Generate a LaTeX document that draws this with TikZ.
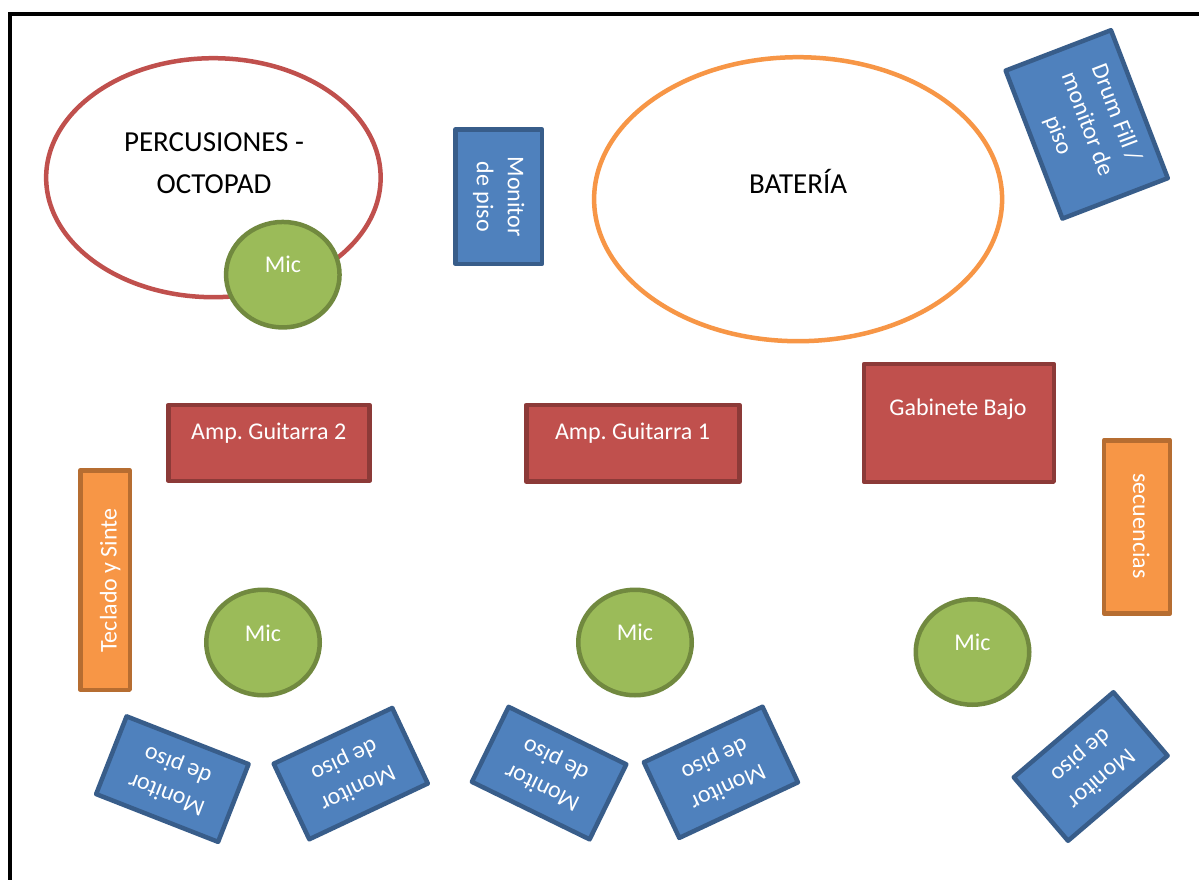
\documentclass[tikz,border=0pt]{standalone}
\usepackage{fontspec}
\setmainfont{Carlito}
\usetikzlibrary{shapes.geometric}
\definecolor{blueF}{HTML}{4F81BD}
\definecolor{blueD}{HTML}{385D8A}
\definecolor{redF}{HTML}{C0504D}
\definecolor{redD}{HTML}{8C3A38}
\definecolor{orF}{HTML}{F79646}
\definecolor{orD}{HTML}{B66D31}
\definecolor{grF}{HTML}{9BBB59}
\definecolor{grD}{HTML}{71893F}
\newcommand\wtxtfont{\fontsize{24}{31}\selectfont}
\newcommand\blktxtfont{\fontsize{29}{41.6}\selectfont}
\frenchspacing
\begin{document}
\begin{tikzpicture}[x=1pt,y=-1pt,
  shp/.style={line width=4.5pt, line join=round, inner sep=0pt, outer sep=0pt},
  ring/.style={shp, ellipse, fill=white},
  mic/.style={shp, ellipse, fill=grF, draw=grD, minimum width=113.5pt, minimum height=105.5pt},
  mon/.style={shp, rectangle, fill=blueF, draw=blueD, text=white, font=\wtxtfont, align=center},
  botmon/.style={mon, minimum width=131pt, minimum height=83.5pt},
  redbox/.style={shp, rectangle, fill=redF, draw=redD},
  orbox/.style={shp, rectangle, fill=orF, draw=orD},
  wt/.style={text=white, font=\wtxtfont, inner sep=0pt},
  bt/.style={text=black, font=\blktxtfont, inner sep=0pt, align=center}]
\useasboundingbox (0,0) rectangle (1199,880);
\fill[white] (0,0) rectangle (1199,880);
% frame
\draw[line width=4.5pt, black] (10,885) -- (10,14) -- (1205,14);

% percusiones
\node[ring, draw=redF, minimum width=334.5pt, minimum height=239pt] (perc) at (213.4,177.7) {};
\node[bt] (perct) at (214,163.2) {PERCUSIONES -\\OCTOPAD};
\node[mic] (mic1) at (282.8,274.7) {};
\node[wt, anchor=base] (mic1t) at (283,272.7) {Mic};

% monitor top
\node[mon, rotate=-90, minimum width=134.3pt, minimum height=86.5pt] (montop) at (498.8,196.7) {Monitor\\de piso};

% bateria
\node[ring, draw=orF, minimum width=408pt, minimum height=284pt] (bat) at (798.1,199.2) {};
\node[bt, anchor=base] (batt) at (798.1,193.3) {BATERÍA};

% drum fill
\node[mon, rotate=-69, minimum width=158.5pt, minimum height=112.8pt] (drum) at (1086.7,124.4) {Drum Fill /\\monitor de\\piso};

% amps
\node[redbox, minimum width=201.2pt, minimum height=75.8pt] (amp2) at (268.9,442.9) {};
\node[wt, anchor=base] (amp2t) at (268.7,439) {Amp. Guitarra 2};
\node[redbox, minimum width=213.2pt, minimum height=76.8pt] (amp1) at (632.9,443.3) {};
\node[wt, anchor=base] (amp1t) at (632.5,439) {Amp. Guitarra 1};
\node[redbox, minimum width=189.8pt, minimum height=117.8pt] (gab) at (958.9,422.9) {};
\node[wt, anchor=base] (gabt) at (958,415) {Gabinete Bajo};

% orange
\node[orbox, minimum width=66.1pt, minimum height=173.2pt] (sec) at (1137,526.9) {};
\node[wt, rotate=-90, anchor=base] (sect) at (1133,526) {secuencias};
\node[orbox, minimum width=49.5pt, minimum height=219.5pt] (tec) at (105,580) {};
\node[wt, rotate=90, anchor=base] (tect) at (116.7,580.5) {Teclado y Sinte};

% mics
\node[mic] (mic2) at (263,642.5) {};
\node[wt, anchor=base] (mic2t) at (263,641) {Mic};
\node[mic] (mic3) at (635,642.5) {};
\node[wt, anchor=base] (mic3t) at (635,640.7) {Mic};
\node[mic] (mic4) at (972.5,652) {};
\node[wt, anchor=base] (mic4t) at (972.5,650) {Mic};

% bottom monitors
\node[botmon, rotate=158.6] (monA) at (172.35,779.1) {Monitor\\de piso};
\node[botmon, rotate=205.2] (monB) at (350.75,773.6) {Monitor\\de piso};
\node[botmon, rotate=153.95] (monC) at (549.1,773.1) {Monitor\\de piso};
\node[botmon, rotate=205.1] (monD) at (720.9,772.3) {Monitor\\de piso};
\node[botmon, rotate=220.5] (monE) at (1090.7,766.5) {Monitor\\de piso};
\end{tikzpicture}
\end{document}
